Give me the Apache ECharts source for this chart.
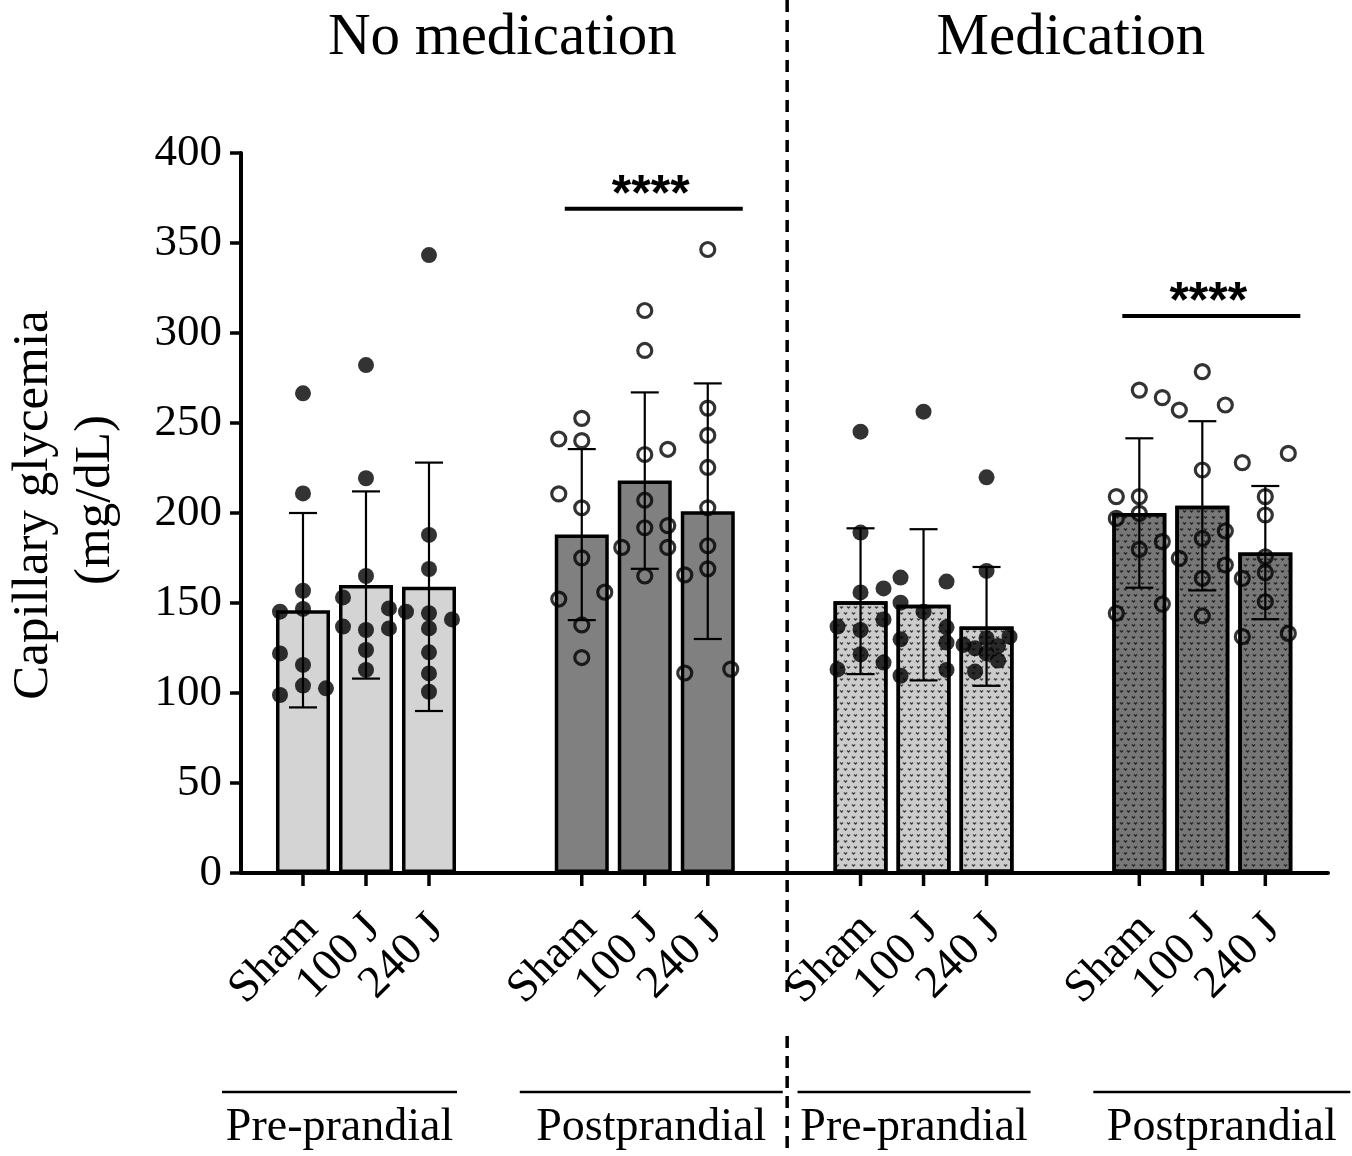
<!DOCTYPE html>
<html>
<head>
<meta charset="utf-8">
<script src="https://cdn.jsdelivr.net/npm/echarts@6/dist/echarts.min.js"></script>
<style>
html,body{margin:0;padding:0;background:#fff;}
#c{width:1352px;height:1156px;}
</style>
</head>
<body>
<div id="c"></div>
<script>
// ---------------- data ----------------
const sections = ['No medication', 'Medication'];
const mealGroups = ['Pre-prandial', 'Postprandial', 'Pre-prandial', 'Postprandial'];
const doses = ['Sham', '100 J', '240 J'];
const yTicks = [0, 50, 100, 150, 200, 250, 300, 350, 400];

// bar means (mg/dL), order: group x dose
const means = [146, 160, 159, 188, 218, 201, 151, 149, 137, 200, 204, 178];
// SD (error bar half-length)
const sds = [54, 52, 69, 47.5, 49, 71, 40.5, 42, 33, 41.5, 47, 37];

// individual points per bar
const dotsNoMedPre = [
  [266.5, 210.9, 156.8, 146.7, 145.2, 122, 115.6, 104.1, 102.6, 98.9],
  [282.2, 219.3, 165, 153.1, 147, 136.9, 135, 135.9, 123.9, 112.8],
  [343.3, 187.8, 168.9, 145.2, 144.3, 140.9, 135.9, 122.6, 110.9, 100.7]
];
const dotsNoMedPost = [
  [252.6, 241.1, 240.2, 210.6, 202.9, 175.1, 156, 152.2, 137.8, 119.7],
  [312.5, 290.3, 235.4, 232.5, 207.1, 193, 191.8, 180.9, 180.9, 165],
  [346.4, 258.3, 243.1, 225.3, 202.9, 181.8, 169, 165.6, 111.1, 113.3]
];
const dotsMedPre = [
  [245.2, 189.1, 158.1, 155.9, 140.9, 136.9, 135, 121.5, 116.9, 113.1],
  [256.3, 164.1, 161.9, 150.2, 145.2, 136.5, 129.8, 128, 112.8, 109.6],
  [219.8, 167.8, 131.3, 130.4, 126.7, 126.1, 124.8, 122, 118, 111.9]
];
const dotsMedPost = [
  [268.3, 264.1, 209.1, 209.1, 199.8, 197, 184.1, 179.8, 149.4, 144.3],
  [278.5, 257.2, 260, 223.9, 190, 185.9, 174.8, 171.1, 163.7, 142.8],
  [233.1, 228, 209.1, 198.9, 175.7, 166.9, 163.7, 150.7, 131.3, 133.1]
];
const sigText = '****';
const sigGroups = [1, 3];
const sigLevels = [369, 309.5];

// ---------------- layout (not data) ----------------
const dotSides = [
  [0, 0, 0, 0, -1, -1, 0, 0, 1, -1],
  [0, 0, 0, -1, 1, -1, 0, 1, 0, 0],
  [0, 0, 0, -1, 0, 1, 0, 0, 0, 0],
  [0, -1, 0, -1, 0, 0, 1, -1, 0, 0],
  [0, 0, 1, 0, 0, 1, 0, -1, 1, 0],
  [0, 0, 0, 0, 0, 0, 0, -1, -1, 1],
  [0, 0, 1, 0, 1, -1, 0, 0, 1, -1],
  [0, -1, 1, -1, 0, 1, -1, 1, 1, -1],
  [0, 0, 1, 0, -1, 0.5, -0.5, 0, 0.5, -0.5],
  [0, 1, -1, 0, 0, -1, 1, 0, 1, -1],
  [0, -1, 1, 0, 1, 0, -1, 1, 0, 0],
  [1, -1, 0, 0, 0, 0, -1, 0, -1, 1]
];
const FONT = '"Liberation Serif", "Times New Roman", serif';
const GAP = 4.425, JIT = 0.365;
const X_MIN = -0.984, X_MAX = 16.27;
const GRID = {left: 241, top: 153, right: 24, bottom: 283};
const fills = ['#d4d4d4', '#808080', '#cccccc', '#777777'];
const decalColors = [null, null, 'rgba(0,0,0,0.95)', 'rgba(0,0,0,0.95)'];
const groupDots = [dotsNoMedPre, dotsNoMedPost, dotsMedPre, dotsMedPost];
const hollow = [false, true, false, true];
const lineExt = [[-144, 91], [-125, 138], [-126, 107], [-109, 148]];
const titleShift = [-3, 8];

function xPos(g, i) { return g * GAP + i; }

// ---------------- series ----------------
const series = [];
for (let g = 0; g < 4; g++) {
  const itemStyle = {color: fills[g], borderColor: '#000', borderWidth: 3.5};
  if (decalColors[g]) {
    itemStyle.decal = {
      symbol: 'path://M0 0L4 0L4 2L6 2L6 0L10 0L10 3L7 3L7 6L3 6L3 3L0 3Z',
      symbolSize: 1.15,
      color: decalColors[g],
      dashArrayX: [[3, 3.5], [0, 3.25, 3, 0.25]],
      dashArrayY: [3, 3]
    };
  }
  series.push({
    type: 'bar', barWidth: 54, barGap: '-100%', z: 2,
    data: doses.map((d, i) => [xPos(g, i), means[g * 3 + i]]),
    itemStyle: itemStyle,
    emphasis: {disabled: true},
    silent: true
  });
}
// error bars
series.push({
  type: 'custom', z: 3, silent: true,
  data: means.map((m, k) => [xPos(Math.floor(k / 3), k % 3), m - sds[k], m + sds[k]]),
  encode: {x: 0, y: [1, 2]},
  renderItem: function (params, api) {
    const x = api.value(0);
    const lo = api.coord([x, api.value(1)]);
    const hi = api.coord([x, api.value(2)]);
    const st = {stroke: '#000', lineWidth: 2.2};
    return {type: 'group', children: [
      {type: 'line', shape: {x1: lo[0], y1: lo[1], x2: hi[0], y2: hi[1]}, style: st},
      {type: 'line', shape: {x1: hi[0] - 14, y1: hi[1], x2: hi[0] + 14, y2: hi[1]}, style: st},
      {type: 'line', shape: {x1: lo[0] - 14, y1: lo[1], x2: lo[0] + 14, y2: lo[1]}, style: st}
    ]};
  }
});
// dots
for (let g = 0; g < 4; g++) {
  const data = [];
  groupDots[g].forEach((arr, i) => {
    arr.forEach((v, j) => data.push([xPos(g, i) + dotSides[g * 3 + i][j] * JIT, v]));
  });
  series.push({
    type: 'scatter', z: 4, silent: true,
    symbol: 'circle',
    symbolSize: hollow[g] ? 14 : 16,
    data: data,
    itemStyle: hollow[g]
      ? {color: 'rgba(0,0,0,0)', borderColor: '#000', borderWidth: 3.2}
      : {color: '#000'}
  });
}
// x tick marks and rotated labels
const tickData = [];
for (let g = 0; g < 4; g++) for (let i = 0; i < 3; i++) tickData.push([xPos(g, i), 0, i]);
series.push({
  type: 'custom', z: 5, silent: true, clip: false,
  data: tickData,
  encode: {x: 0, y: 1},
  renderItem: function (params, api) {
    const p = api.coord([api.value(0), 0]);
    const label = doses[api.value(2)];
    return {type: 'group', children: [
      {type: 'line', shape: {x1: p[0], y1: p[1], x2: p[0], y2: p[1] + 13}, style: {stroke: '#000', lineWidth: 3.5}},
      {type: 'text', x: p[0] + 8, y: p[1] + 49, rotation: Math.PI / 4,
       style: {text: label, font: '46px ' + FONT, fill: '#000', align: 'right', verticalAlign: 'middle'}}
    ]};
  }
});
// significance bars
series.push({
  type: 'custom', z: 5, silent: true, clip: false,
  data: sigGroups.map((g, k) => [xPos(g, 0), xPos(g, 2), sigLevels[k]]),
  encode: {x: [0, 1], y: 2},
  renderItem: function (params, api) {
    const a = api.coord([api.value(0), api.value(2)]);
    const b = api.coord([api.value(1), api.value(2)]);
    const x1 = a[0] - 17, x2 = b[0] + 35;
    return {type: 'group', children: [
      {type: 'line', shape: {x1: x1, y1: a[1], x2: x2, y2: a[1]}, style: {stroke: '#000', lineWidth: 4}},
      {type: 'text', x: (x1 + x2) / 2 - 3, y: a[1] + 12,
       style: {text: sigText, font: 'bold 50px "Liberation Sans", Arial, sans-serif', fill: '#000', align: 'center', verticalAlign: 'bottom'}}
    ]};
  }
});

const chart = echarts.init(document.getElementById('c'), null, {renderer: 'canvas'});
chart.setOption({
  animation: false,
  backgroundColor: '#fff',
  grid: GRID,
  xAxis: {
    type: 'value', min: X_MIN, max: X_MAX,
    axisLine: {show: true, onZero: false, lineStyle: {color: '#000', width: 4}},
    axisTick: {show: false}, axisLabel: {show: false}, splitLine: {show: false}
  },
  yAxis: {
    type: 'value', min: yTicks[0], max: yTicks[yTicks.length - 1], interval: yTicks[1] - yTicks[0],
    axisLine: {show: true, onZero: false, lineStyle: {color: '#000', width: 4}},
    axisTick: {show: true, inside: false, length: 11, lineStyle: {color: '#000', width: 3.5}},
    axisLabel: {color: '#000', fontFamily: FONT, fontSize: 45, margin: 19},
    splitLine: {show: false}
  },
  series: series
});

// ---------------- annotations ----------------
const px = v => chart.convertToPixel({gridIndex: 0}, [v, 0]);
const groupCenters = [0, 1, 2, 3].map(g => px(xPos(g, 1))[0]);
const divX = px((xPos(1, 2) + xPos(2, 0)) / 2)[0] + 3;
const graphics = [];
// section titles
sections.forEach((s, k) => {
  graphics.push({type: 'text', x: (groupCenters[2 * k] + groupCenters[2 * k + 1]) / 2 + titleShift[k], y: 38,
    style: {text: s, font: '59px ' + FONT, fill: '#000', align: 'center', verticalAlign: 'middle'}});
});
// divider
graphics.push({type: 'line', shape: {x1: divX, y1: 0, x2: divX, y2: 992},
  style: {stroke: '#000', lineWidth: 3.5, lineDash: [12, 8]}});
graphics.push({type: 'line', shape: {x1: divX, y1: 1036, x2: divX, y2: 1156},
  style: {stroke: '#000', lineWidth: 3.5, lineDash: [12, 8]}});
// meal group labels
mealGroups.forEach((m, g) => {
  const x1 = groupCenters[g] + lineExt[g][0], x2 = groupCenters[g] + lineExt[g][1];
  graphics.push({type: 'line', shape: {x1: x1, y1: 1092, x2: x2, y2: 1092}, style: {stroke: '#000', lineWidth: 2.5}});
  graphics.push({type: 'text', x: (x1 + x2) / 2, y: 1128,
    style: {text: m, font: '46px ' + FONT, fill: '#000', align: 'center', verticalAlign: 'middle'}});
});
// y axis title
graphics.push({type: 'text', x: 34, y: 505, rotation: Math.PI / 2,
  style: {text: 'Capillary glycemia', font: '51px ' + FONT, fill: '#000', align: 'center', verticalAlign: 'middle'}});
graphics.push({type: 'text', x: 96, y: 500, rotation: Math.PI / 2,
  style: {text: '(mg/dL)', font: '51px ' + FONT, fill: '#000', align: 'center', verticalAlign: 'middle'}});
chart.setOption({graphic: graphics});
</script>
</body>
</html>
